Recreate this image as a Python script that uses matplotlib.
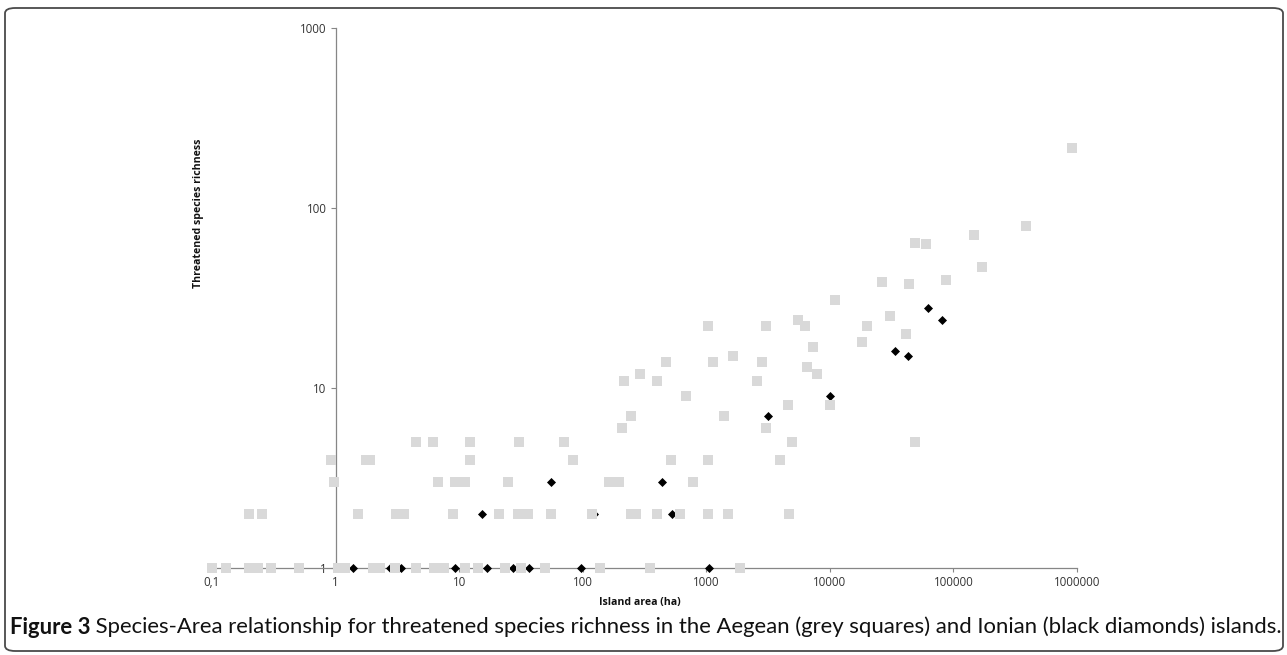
import matplotlib
matplotlib.use("Agg")
import matplotlib.pyplot as plt
from matplotlib.patches import FancyBboxPatch

# ---------------- data ----------------
# Aegean islands (grey squares): area (ha), threatened species richness
aegean_area = [0.1, 0.13, 0.2, 0.235, 0.30, 0.51, 1.05, 1.2, 2.02, 2.3, 3.04, 4.44, 6.25, 7.6,
               11.1, 14.2, 23.4, 31.9, 49.2, 137, 353, 1870,
               0.2, 0.255, 1.52, 3.1, 3.55, 8.9, 20.9, 29.9, 36.3, 55, 119, 248, 272, 400, 610,
               1035, 1485, 4630,
               0.97, 6.8, 9.2, 11.2, 24.8, 163, 196, 787,
               0.92, 1.75, 1.9, 12.3, 83.5, 516, 1035, 3940,
               4.5, 6.1, 12.3, 30.5, 70.6, 4900, 49100,
               207, 3070,
               248, 1380,
               4570, 10000,
               682,
               215, 400, 2580,
               290, 7800,
               6510,
               476, 1130, 2800,
               1640,
               7280,
               18300,
               41200,
               1035, 3070, 6310, 20000,
               5540,
               30400,
               11100,
               26200, 43900, 86900,
               169000,
               60300, 49100,
               146600,
               386000,
               911000]
aegean_rich = [1] * 22 + \
              [2] * 18 + \
              [3] * 8 + \
              [4] * 8 + \
              [5] * 7 + \
              [6] * 2 + \
              [7] * 2 + \
              [8] * 2 + \
              [9] * 1 + \
              [11] * 3 + \
              [12] * 2 + \
              [13] * 1 + \
              [14] * 3 + \
              [15] * 1 + \
              [17] * 1 + \
              [18] * 1 + \
              [20] * 1 + \
              [22] * 4 + \
              [24] * 1 + \
              [25] * 1 + \
              [31] * 1 + \
              [39, 38, 40] + \
              [47] + \
              [63, 64] + \
              [71] + \
              [79] + \
              [215]

# Ionian islands (black diamonds)
ionian_area = [1.38, 2.74, 3.4, 9.2, 16.9, 27.3, 36.7, 97.5, 1054,
               15.4, 123, 524,
               55, 439,
               3130, 10000, 33800, 42600, 61800, 81100]
ionian_rich = [1, 1, 1, 1, 1, 1, 1, 1, 1,
               2, 2, 2,
               3, 3,
               7, 9, 16, 15, 28, 24]

x_ticks = [0.1, 1, 10, 100, 1000, 10000, 100000, 1000000]
x_tick_labels = ["0,1", "1", "10", "100", "1000", "10000", "100000", "1000000"]
y_ticks = [1, 10, 100, 1000]
y_tick_labels = ["1", "10", "100", "1000"]

x_label = "Island area (ha)"
y_label = "Threatened species richness"
caption_bold = "Figure 3"
caption_rest = (" Species-Area relationship for threatened species richness in the Aegean "
                "(grey squares) and Ionian (black diamonds) islands.")

# ---------------- figure ----------------
W, H = 1287, 655
fig = plt.figure(figsize=(W / 100, H / 100), dpi=100)
fig.patch.set_facecolor("white")

# rounded frame
frame = FancyBboxPatch((5 / W, 4 / H), 1278 / W, 643 / H,
                       boxstyle="round,pad=0,rounding_size=0.008",
                       transform=fig.transFigure, facecolor="none",
                       edgecolor="#4a4a4a", linewidth=1.3, zorder=0)
fig.patches.append(frame)

ax = fig.add_axes([212 / W, (H - 568) / H, 865 / W, 540 / H])
ax.set_xscale("log")
ax.set_yscale("log")
ax.set_xlim(0.1, 1e6)
ax.set_ylim(1, 1000)

axis_col = "#868686"
for s in ["top", "right"]:
    ax.spines[s].set_visible(False)
ax.spines["left"].set_position(("data", 1))
ax.spines["left"].set_color(axis_col)
ax.spines["bottom"].set_color(axis_col)
ax.spines["left"].set_linewidth(0.9)
ax.spines["bottom"].set_linewidth(0.9)

ax.scatter(ionian_area, ionian_rich, marker="D", s=4.6 ** 2, color="black",
           linewidths=0, zorder=3, clip_on=False)
ax.scatter(aegean_area, aegean_rich, marker="s", s=6.8 ** 2, color="#d9d9d9",
           linewidths=0, zorder=4, clip_on=False)

ax.xaxis.set_major_locator(matplotlib.ticker.FixedLocator(x_ticks))
ax.xaxis.set_minor_locator(matplotlib.ticker.NullLocator())
ax.set_xticklabels(x_tick_labels)
ax.yaxis.set_major_locator(matplotlib.ticker.FixedLocator(y_ticks))
ax.yaxis.set_minor_locator(matplotlib.ticker.NullLocator())
ax.set_yticklabels(y_tick_labels)

ax.tick_params(axis="x", direction="out", length=3, width=0.8, color=axis_col,
               labelcolor="#333333", pad=3)
ax.tick_params(axis="y", direction="out", length=3.5, width=0.8, color=axis_col,
               labelcolor="#333333", pad=3)
for lab in ax.get_xticklabels() + ax.get_yticklabels():
    lab.set_fontfamily("Open Sans")
    lab.set_fontsize(8.3)

fig.text(640 / W, (H - 603) / H, x_label, ha="center", va="center",
         fontfamily="Open Sans", fontweight="bold", fontsize=7.6, color="#111111")
fig.text(199 / W, (H - 213) / H, y_label, ha="center", va="center", rotation=90,
         fontfamily="Open Sans", fontweight="bold", fontsize=7.6, color="#111111")

# caption (bold lead + normal rest), fitted to span x=10..1275 px
cap_y = (H - 627) / H
cap_size = 12.0
cap_font = "Lato"
t1 = fig.text(10 / W, cap_y, caption_bold, ha="left", va="center",
              fontfamily=cap_font, fontweight="bold", fontsize=cap_size, color="#111111")
t2 = fig.text(0, cap_y, caption_rest, ha="left", va="center",
              fontfamily=cap_font, fontsize=cap_size, color="#111111")
fig.canvas.draw()
r = fig.canvas.get_renderer()
w_total = t1.get_window_extent(renderer=r).width + t2.get_window_extent(renderer=r).width
cap_size = cap_size * (1265.0 / w_total)
t1.set_fontsize(cap_size)
t2.set_fontsize(cap_size)
fig.canvas.draw()
bb = t1.get_window_extent(renderer=r)
t2.set_x(bb.x1 / W)

fig.savefig("out.png", dpi=100, facecolor="white")
